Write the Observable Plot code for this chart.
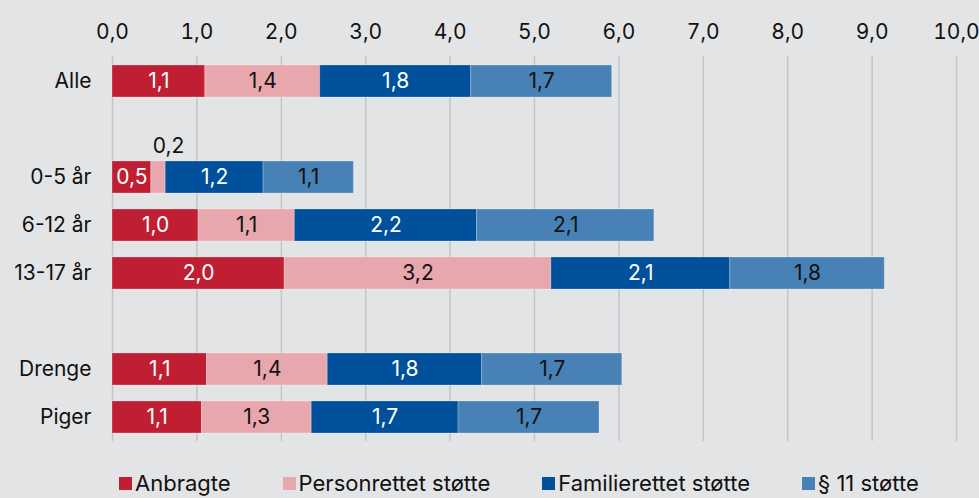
<!DOCTYPE html>
<html>
<head>
<meta charset="utf-8">
<script src="https://cdn.jsdelivr.net/npm/d3@7"></script>
<script src="https://cdn.jsdelivr.net/npm/@observablehq/plot@0.6"></script>
<style>
  html, body { margin: 0; padding: 0; background: #e3e4e6; }
  body { width: 979px; height: 498px; overflow: hidden; font-family: Inter, "Noto Sans", sans-serif; }
  #legend { display: flex; gap: 52px; padding-left: 119px; margin-top: 16px; font-size: 22px; line-height: 24px; color: #111; }
  #legend .item { display: flex; align-items: center; }
  #legend .sw { width: 13px; height: 13px; margin-right: 3px; }
</style>
</head>
<body>
<div id="chart"></div>
<div id="legend"></div>
<script>
const categories = ["Alle", "0-5 år", "6-12 år", "13-17 år", "Drenge", "Piger"];
const rowOrder = ["Alle", " ", "0-5 år", "6-12 år", "13-17 år", "  ", "Drenge", "Piger"];
const seriesNames = ["Anbragte", "Personrettet støtte", "Familierettet støtte", "§ 11 støtte"];
const anbragte      = [1.10, 0.46, 1.02, 2.04, 1.12, 1.06];
const personrettet  = [1.36, 0.17, 1.14, 3.16, 1.43, 1.30];
const familierettet = [1.79, 1.16, 2.16, 2.12, 1.83, 1.74];
const paragraf11    = [1.67, 1.07, 2.10, 1.83, 1.66, 1.67];
const colors = ["#c01f33", "#e8a7ad", "#00509b", "#4781b5"];
const xTicks = [0, 1, 2, 3, 4, 5, 6, 7, 8, 9, 10];

const seriesValues = [anbragte, personrettet, familierettet, paragraf11];
const data = [];
categories.forEach((c, i) => {
  seriesNames.forEach((s, j) => data.push({cat: c, type: s, value: seriesValues[j][i]}));
});
const fmt = v => v.toFixed(1).replace(".", ",");
const whiteText = new Set(["Anbragte", "Familierettet støtte"]);

const chart = Plot.plot({
  width: 979,
  height: 455,
  marginTop: 56,
  marginBottom: 14,
  marginLeft: 112,
  marginRight: 23,
  style: {background: "#e3e4e6", fontFamily: "Inter, 'Noto Sans', sans-serif", fontSize: "21px", color: "#111"},
  x: {domain: [0, 10], axis: "top", ticks: xTicks, tickFormat: fmt, tickSize: 0, tickPadding: 18, label: null},
  y: {domain: rowOrder, paddingInner: 0.335, paddingOuter: 0.166, tickSize: 0, tickPadding: 21, label: null},
  color: {domain: seriesNames, range: colors},
  marks: [
    Plot.gridX(xTicks, {stroke: "#c4c5c7", strokeOpacity: 1, strokeWidth: 1.5}),
    Plot.barX(data, Plot.stackX({x: "value", y: "cat", fill: "type", stroke: "#ffffff", strokeOpacity: 0.25, strokeWidth: 1, inset: 0})),
    Plot.text(data, Plot.stackX({x: "value", y: "cat", text: d => (whiteText.has(d.type) && d.value >= 0.3) ? fmt(d.value) : "", fill: "white", fontSize: 21})),
    Plot.text(data, Plot.stackX({x: "value", y: "cat", text: d => (!whiteText.has(d.type) && d.value >= 0.3) ? fmt(d.value) : "", fill: "#111", fontSize: 21})),
    Plot.text(data, Plot.stackX({x: "value", y: "cat", text: d => d.value < 0.3 ? fmt(d.value) : "", fill: "#111", fontSize: 21, dy: -31, dx: 10}))
  ]
});
document.getElementById("chart").appendChild(chart);

const legend = document.getElementById("legend");
seriesNames.forEach((s, i) => {
  const item = document.createElement("div");
  item.className = "item";
  const sw = document.createElement("span");
  sw.className = "sw";
  sw.style.background = colors[i];
  const t = document.createElement("span");
  t.textContent = s;
  item.appendChild(sw);
  item.appendChild(t);
  legend.appendChild(item);
});
</script>
</body>
</html>
